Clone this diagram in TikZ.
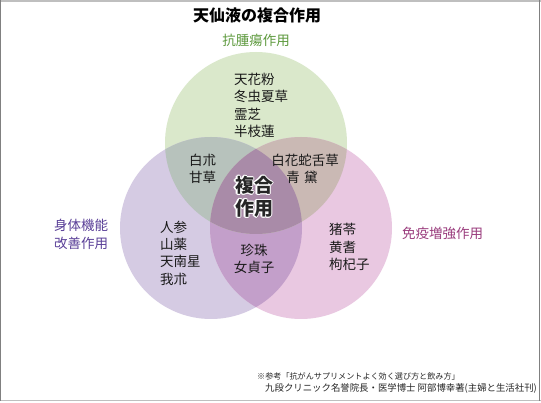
\documentclass[tikz,border=0pt]{standalone}
\usepackage{fontspec}
\setmainfont{Noto Sans CJK JP}
\definecolor{cgreen}{HTML}{DAE8CB}
\definecolor{cpurple}{HTML}{D5CBE3}
\definecolor{cpink}{HTML}{E9C8E1}
\definecolor{cgp}{HTML}{B7C2BC}
\definecolor{cgk}{HTML}{CAB9B4}
\definecolor{cpk}{HTML}{C39FCA}
\definecolor{cgpk}{HTML}{A98BA8}
\definecolor{tgreen}{HTML}{5E9A3E}
\definecolor{tpurple}{HTML}{5A3F98}
\definecolor{tpink}{HTML}{9A3C7D}
\tikzset{
  lbl/.style={inner sep=0pt, font=\fontsize{13.5}{17.3}\selectfont, align=left, text=black!90},
  head/.style={inner sep=0pt, font=\fontsize{13.5}{18}\selectfont, align=left},
  note/.style={inner sep=0pt, text=black!85},
  core/.style={inner sep=0pt, font=\bfseries\fontsize{19}{23}\selectfont, align=center},
}
\begin{document}
\begin{tikzpicture}[x=1pt,y=-1pt]
\useasboundingbox (0,0) rectangle (541,403);
\fill[white] (0,0) rectangle (541,403);
% frame
\draw[black!25, line width=1.6pt] (0,1) -- (541,1);
\draw[black!25, line width=1.6pt] (0,400.5) -- (541,400.5);
\draw[black!50, line width=1.2pt] (0.8,0) -- (0.8,401);
\draw[black!50, line width=1.2pt] (539.8,0) -- (539.8,401);
% circles
\coordinate (G) at (256,143);
\coordinate (P) at (211,228);
\coordinate (K) at (301,228);
\fill[cgreen] (G) circle[radius=91pt];
\fill[cpurple] (P) circle[radius=91pt];
\fill[cpink] (K) circle[radius=91pt];
\begin{scope}
  \clip (P) circle[radius=91pt];
  \fill[cpk] (K) circle[radius=91pt];
\end{scope}
\begin{scope}
  \clip (G) circle[radius=91pt];
  \fill[cgp] (P) circle[radius=91pt];
  \fill[cgk] (K) circle[radius=91pt];
  \clip (P) circle[radius=91pt];
  \fill[cgpk] (K) circle[radius=91pt];
\end{scope}
% title and headings
\node[inner sep=0pt, font=\bfseries\fontsize{16}{18}\selectfont] (title) at (257,15) {天仙液の複合作用};
\node[head, text=tgreen] (hg) at (256,40) {抗腫瘍作用};
\node[head, text=tpurple, anchor=west] (hp) at (54,234) {身体機能\\改善作用};
\node[head, text=tpink, anchor=west] (hk) at (402,233) {免疫増強作用};
% region texts
\node[lbl, anchor=west] (tg) at (234,105.5) {天花粉\\冬虫夏草\\霊芝\\半枝蓮};
\node[lbl, anchor=west] (tgp) at (189,168.5) {白朮\\甘草};
\node[lbl] (tgk1) at (305,160) {白花蛇舌草};
\node[lbl] (tgk2) at (302,177) {青\,\,黛};
\node[lbl, anchor=west] (tp) at (160,253) {人参\\山薬\\天南星\\我朮};
\node[lbl, align=center] (tpk) at (254,259) {珍珠\\女貞子};
\node[lbl, anchor=west] (tk) at (329,247) {猪苓\\黄耆\\枸杞子};
% core text with white halo
\foreach \dx/\dy in {-1.2/0,1.2/0,0/-1.2,0/1.2,-0.9/-0.9,0.9/-0.9,-0.9/0.9,0.9/0.9}{
  \node[core, text=white] at (254+\dx,197+\dy) {複合\\作用};
}
\node[core, text=black!85] (core) at (254,197) {複合\\作用};
% footnote
\node[note, anchor=west, font=\fontsize{8.1}{10}\selectfont] (n1) at (257,376) {※参考「抗がんサプリメントよく効く選び方と飲み方」};
\node[note, anchor=west, font=\fontsize{9.4}{11}\selectfont] (n2) at (265,388) {九段クリニック名誉院長・医学博士 阿部博幸著(主婦と生活社刊)};
\end{tikzpicture}
\end{document}
